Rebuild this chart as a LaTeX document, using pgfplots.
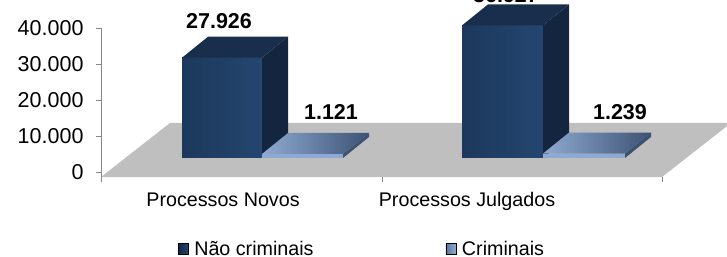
\documentclass[border=0pt]{standalone}
\usepackage{pgfplots}
\pgfplotsset{compat=1.18}
\usepackage{pgfplotstable}
\usepackage{fontspec}
\setmainfont{Liberation Sans}

\definecolor{ncfrontL}{HTML}{1D385C}
\definecolor{ncfrontR}{HTML}{24466F}
\definecolor{ncside}{HTML}{14253F}
\definecolor{nctop}{HTML}{182E4C}
\definecolor{crlight}{HTML}{8FAAD2}
\definecolor{crdark}{HTML}{3C5273}
\definecolor{floorgray}{HTML}{BFBFBF}
\definecolor{axgray}{HTML}{868686}

% values in thousands
\pgfplotstableread{
grupo naocrim crim
0 27.926 1.121
1 36.927 1.239
}\dados

\pgfplotstablegetelem{0}{naocrim}\of\dados \let\ncA\pgfplotsretval
\pgfplotstablegetelem{1}{naocrim}\of\dados \let\ncB\pgfplotsretval
\pgfplotstablegetelem{0}{crim}\of\dados \let\crA\pgfplotsretval
\pgfplotstablegetelem{1}{crim}\of\dados \let\crB\pgfplotsretval

\def\B{3.9}   % bar base
\def\D{5.85}  % depth offset (y)
\pgfmathsetmacro{\BD}{\B+\D}
\pgfmathsetmacro{\TA}{\B+\ncA}
\pgfmathsetmacro{\TAD}{\TA+\D}
\pgfmathsetmacro{\TB}{\B+\ncB}
\pgfmathsetmacro{\TBD}{\TB+\D}
\pgfmathsetmacro{\tA}{\B+\crA}
\pgfmathsetmacro{\tAD}{\tA+\D}
\pgfmathsetmacro{\tB}{\B+\crB}
\pgfmathsetmacro{\tBD}{\tB+\D}
\pgfmathsetmacro{\LA}{\TA+10.23}
\pgfmathsetmacro{\LB}{\TB+8.5}
\pgfmathsetmacro{\lA}{\tA+11.7}
\pgfmathsetmacro{\lB}{\tB+11.45}

\begin{document}
\begin{tikzpicture}
\begin{axis}[
  at={(101bp,80bp)}, anchor=south west,
  scale only axis, width=626bp, height=177bp,
  xmin=101, xmax=727, ymin=-1.393, ymax=47.91,
  clip=false,
  axis line style={draw=none},
  ytick={0,10,20,30,40},
  yticklabels={0,10.000,20.000,30.000,40.000},
  xtick={101,382,662}, xticklabels={},
  extra x ticks={223,467},
  extra x tick labels={Processos Novos,Processos Julgados},
  extra x tick style={major tick length=0pt},
  tick style={axgray, line width=0.8bp},
  tick align=outside, major tick length=5bp,
  xtick pos=bottom, ytick pos=left,
  yticklabel style={font=\fontsize{21.5bp}{24bp}\selectfont, xshift=-9bp},
  xticklabel style={font=\fontsize{19.7bp}{24bp}\selectfont, yshift=-12bp},
  legend style={at={(rel axis cs:0.4169,-0.41)}, anchor=center, draw=none, fill=none,
    inner ysep=0pt, outer sep=0pt,
    nodes={inner ysep=0pt, outer ysep=0pt},
    font=\fontsize{19.7bp}{24bp}\selectfont,
    /tikz/every odd column/.append style={column sep=4bp},
    /tikz/every even column/.append style={column sep=130bp}},
  legend columns=2,
  legend image code/.code={\fill[#1] (0bp,-5bp) rectangle (10bp,6bp);},
]
% floor
\addplot[draw=none, fill=floorgray, forget plot] coordinates {(101,-1.393) (662,-1.393) (731,13.65) (170,13.65)};
% y axis line
\draw[axgray, line width=0.8bp] (axis cs:101,-1.393) -- (axis cs:101,40);

% group 1 - Nao criminais
\addplot[draw=none, left color=ncfrontL, right color=ncfrontR, forget plot] coordinates {(182,\B) (262,\B) (262,\TA) (182,\TA)};
\addplot[draw=none, fill=ncside, forget plot] coordinates {(262,\B) (288,\BD) (288,\TAD) (262,\TA)};
\addplot[draw=none, fill=nctop, forget plot] coordinates {(182,\TA) (262,\TA) (288,\TAD) (208,\TAD)};
% group 1 - Criminais
\addplot[draw=none, fill=crdark, forget plot] coordinates {(343,\B) (369,\BD) (369,\tAD) (343,\tA)};
\addplot[draw=none, fill=crlight, forget plot] coordinates {(262,\B) (343,\B) (343,\tA) (262,\tA)};
\addplot[draw=none, left color=crlight, right color=crdark, forget plot] coordinates {(262,\tA) (343,\tA) (369,\tAD) (288,\tAD)};

% group 2 - Nao criminais
\addplot[draw=none, left color=ncfrontL, right color=ncfrontR, forget plot] coordinates {(462,\B) (543,\B) (543,\TB) (462,\TB)};
\addplot[draw=none, fill=ncside, forget plot] coordinates {(543,\B) (569,\BD) (569,\TBD) (543,\TB)};
\addplot[draw=none, fill=nctop, forget plot] coordinates {(462,\TB) (543,\TB) (569,\TBD) (488,\TBD)};
% group 2 - Criminais
\addplot[draw=none, fill=crdark, forget plot] coordinates {(625,\B) (651,\BD) (651,\tBD) (625,\tB)};
\addplot[draw=none, fill=crlight, forget plot] coordinates {(543,\B) (625,\B) (625,\tB) (543,\tB)};
\addplot[draw=none, left color=crlight, right color=crdark, forget plot] coordinates {(543,\tB) (625,\tB) (651,\tBD) (569,\tBD)};

% labels
\node[font=\bfseries\fontsize{21.5bp}{24bp}\selectfont] at (axis cs:219,\LA) {\pgfmathprintnumber[fixed,fixed zerofill,precision=3,assume math mode=true]{\ncA}};
\node[font=\bfseries\fontsize{21.5bp}{24bp}\selectfont] at (axis cs:506,\LB) {\pgfmathprintnumber[fixed,fixed zerofill,precision=3,assume math mode=true]{\ncB}};
\node[font=\bfseries\fontsize{21.5bp}{24bp}\selectfont] at (axis cs:331,\lA) {\pgfmathprintnumber[fixed,fixed zerofill,precision=3,assume math mode=true]{\crA}};
\node[font=\bfseries\fontsize{21.5bp}{24bp}\selectfont] at (axis cs:620,\lB) {\pgfmathprintnumber[fixed,fixed zerofill,precision=3,assume math mode=true]{\crB}};

\addlegendimage{left color=ncside, right color=ncfrontR}
\addlegendentry{Não criminais}
\addlegendimage{left color=crdark!60!crlight, right color=crlight}
\addlegendentry{Criminais}
\end{axis}
\pgfresetboundingbox
\useasboundingbox (0,0) rectangle (727bp,257bp);
\end{tikzpicture}
\end{document}
